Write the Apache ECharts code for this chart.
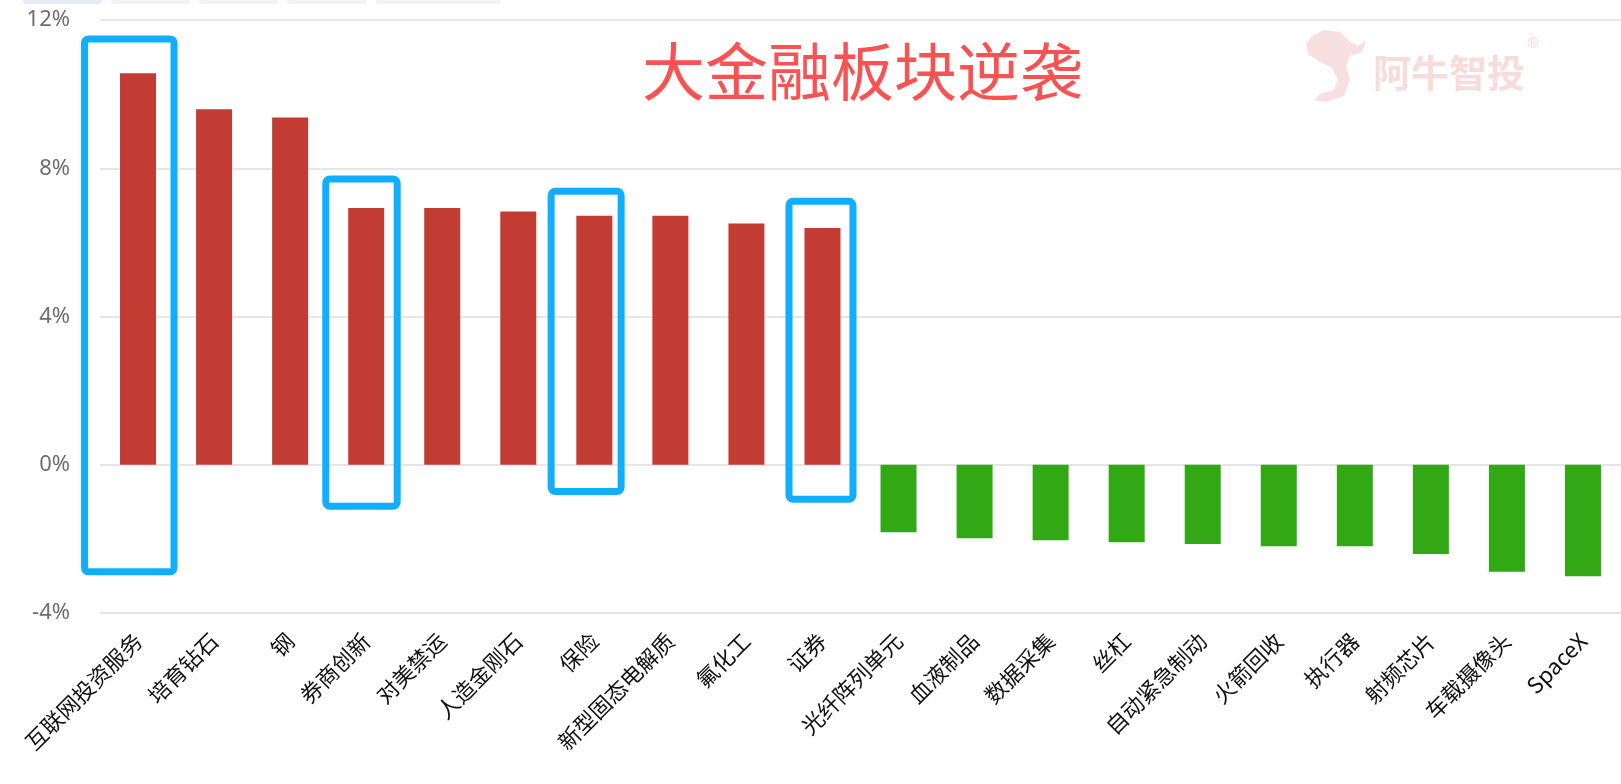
<!DOCTYPE html>
<html>
<head>
<meta charset="utf-8">
<script src="https://cdn.jsdelivr.net/npm/echarts@6/dist/echarts.min.js"></script>
<style>
  html, body { margin: 0; padding: 0; background: #fff; }
  #chart { width: 1621px; height: 784px; }
</style>
</head>
<body>
<div id="chart"></div>
<script>
// ---- data ----
const categories = ['互联网投资服务','培育钻石','钢','券商创新','对美禁运','人造金刚石','保险','新型固态电解质','氟化工','证券',
  '光纤阵列单元','血液制品','数据采集','丝杠','自动紧急制动','火箭回收','执行器','射频芯片','车载摄像头','SpaceX'];
const changePct = [10.56, 9.59, 9.37, 6.93, 6.93, 6.83, 6.72, 6.72, 6.51, 6.39,
  -1.82, -1.98, -2.04, -2.09, -2.14, -2.20, -2.20, -2.41, -2.89, -3.01];
const yTicks = [-4, 0, 4, 8, 12];
const titleText = '大金融板块逆袭';
const watermarkText = '阿牛智投';

// highlighted categories (blue boxes): category, top value, bottom value
const boxCats = ['互联网投资服务', '券商创新', '保险', '证券'];
const boxTop = [11.49, 7.71, 7.38, 7.11];
const boxBottom = [-2.89, -1.12, -0.72, -0.93];

// ---- styles ----
const boxEdgeOffsets = [[-53.5, 36], [-40.4, 31], [-43.2, 26.8], [-33.5, 30.5]]; // px, left/right from category centre
const UP = '#c23c33', DOWN = '#33a815', BOX = '#12aefe';

const chart = echarts.init(document.getElementById('chart'), null, { renderer: 'canvas' });

const boxData = boxCats.map((c, i) => [categories.indexOf(c), boxTop[i], boxBottom[i], i]);

chart.setOption({
  animation: false,
  backgroundColor: '#ffffff',
  title: {
    text: titleText,
    left: 637,
    top: 35,
    textStyle: { color: '#f85252', fontSize: 63, fontWeight: 'normal', fontFamily: 'Noto Sans CJK SC' }
  },
  grid: { left: 100, right: 0, top: 20, bottom: 171 },
  xAxis: {
    type: 'category',
    data: categories,
    axisLine: { show: false, onZero: false },
    axisTick: { show: false },
    axisLabel: {
      rotate: 45,
      interval: 0,
      margin: 24,
      color: '#111',
      fontSize: 22,
      fontFamily: 'Noto Sans CJK SC'
    }
  },
  yAxis: {
    type: 'value',
    min: yTicks[0],
    max: yTicks[yTicks.length - 1],
    interval: 4,
    axisLine: { show: false },
    axisTick: { show: false },
    splitLine: { lineStyle: { color: '#e6e6e6', width: 2 } },
    axisLabel: {
      margin: 30,
      color: '#6e6e6e',
      fontSize: 22,
      fontFamily: 'Noto Sans',
      formatter: '{value}%'
    }
  },
  graphic: [
    { type: 'rect', shape: { x: 23, y: -4, width: 79, height: 8, r: 3 }, style: { fill: '#e6ecf7' } },
    { type: 'rect', shape: { x: 111, y: -4, width: 79, height: 8, r: 3 }, style: { fill: '#f3f3f3' } },
    { type: 'rect', shape: { x: 199, y: -4, width: 79, height: 8, r: 3 }, style: { fill: '#f3f3f3' } },
    { type: 'rect', shape: { x: 287, y: -4, width: 80, height: 8, r: 3 }, style: { fill: '#f3f3f3' } },
    { type: 'rect', shape: { x: 376, y: -4, width: 125, height: 8, r: 3 }, style: { fill: '#f3f3f3' } },
    { type: 'text', x: 1373, y: 54, style: { text: watermarkText, fill: '#f8dcdc', font: 'bold 38px "Noto Sans CJK SC"' } },
    { type: 'text', x: 1527, y: 37, style: { text: '®', fill: '#f8dcdc', font: '14px "Noto Sans"' } },
    { type: 'polygon', shape: { points: [[1312,36],[1324,30],[1340,32],[1350,42],[1358,46],[1366,40],[1362,52],[1350,56],[1346,66],[1350,80],[1344,96],[1326,102],[1314,100],[1320,94],[1334,90],[1338,80],[1332,68],[1320,62],[1308,54],[1306,44]] }, style: { fill: '#f9e0e0' } }
  ],
  series: [
    {
      type: 'bar',
      data: changePct,
      barWidth: 36,
      itemStyle: {
        color: p => (p.value >= 0 ? UP : DOWN)
      }
    },
    {
      type: 'custom',
      data: boxData,
      clip: false,
      z: 5,
      renderItem: (params, api) => {
        const idx = api.value(0);
        const pTop = api.coord([idx, api.value(1)]);
        const pBot = api.coord([idx, api.value(2)]);
        const off = boxEdgeOffsets[api.value(3)];
        return {
          type: 'rect',
          shape: { x: pTop[0] + off[0], y: pTop[1], width: off[1] - off[0], height: pBot[1] - pTop[1], r: 4 },
          style: { fill: 'none', stroke: BOX, lineWidth: 7 }
        };
      }
    }
  ]
});
</script>
</body>
</html>
